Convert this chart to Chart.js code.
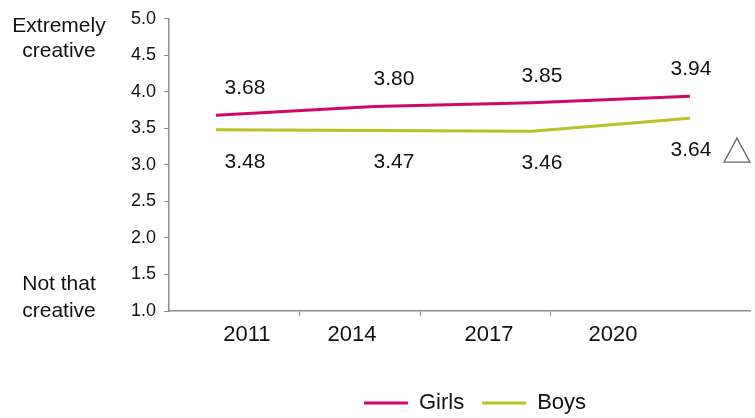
<!DOCTYPE html>
<html lang="en">
<head>
  <meta charset="UTF-8" />
  <title>Creativity rating</title>
  <script src="https://cdn.jsdelivr.net/npm/chart.js"></script>
  <style>
    *{margin:0;padding:0;box-sizing:border-box}
    body,html{width:755px;height:418px;background:#fff;overflow:hidden}
    .wrap{position:relative;width:755px;height:418px}
  </style>
</head>
<body>
  <div class="wrap"><canvas id="chart"></canvas></div>

  <script>
    // data
    const years = ['2011', '2014', '2017', '2020'];
    const girls = [3.68, 3.80, 3.85, 3.94];
    const boys  = [3.48, 3.47, 3.46, 3.64];
    const boysMarks = ['', '', '', '△'];   // significance marker next to the label
    const yTop = ['Extremely', 'creative'];
    const yBottom = ['Not that', 'creative'];

    const FONT = '"Liberation Sans", Arial, sans-serif';
    const PINK = '#D0086A';
    const LIME = '#B9C323';
    const AXIS = '#8c8c8c';

    // where the year labels sit along the x axis (in point units, 0..3)
    const labelPos = [0.196, 0.861, 1.728, 2.513];
    // value labels are a bit to the right of each vertex
    const labelDx = [29, 20, 10, 1];

    const valueLabels = {
      id: 'valueLabels',
      afterDatasetsDraw(chart) {
        const ctx = chart.ctx;
        ctx.save();
        ctx.font = '21px ' + FONT;
        ctx.fillStyle = '#111';
        ctx.textAlign = 'center';
        ctx.textBaseline = 'middle';
        chart.data.datasets.forEach((ds, di) => {
          const meta = chart.getDatasetMeta(di);
          const dy = di === 0 ? -27 : 32;
          meta.data.forEach((pt, i) => {
            const x = pt.x + labelDx[i];
            const y = pt.y + dy;
            ctx.fillText(ds.data[i].y.toFixed(2), x, y);
            if (di === 1 && boysMarks[i]) {
              // hollow triangle
              const cx = x + 46, cy = y;
              ctx.beginPath();
              ctx.moveTo(cx, cy - 12);
              ctx.lineTo(cx + 13, cy + 12);
              ctx.lineTo(cx - 13, cy + 12);
              ctx.closePath();
              ctx.strokeStyle = '#666';
              ctx.lineWidth = 1.3;
              ctx.stroke();
            }
          });
        });
        ctx.restore();
      }
    };

    const sideLabels = {
      id: 'sideLabels',
      afterLayout(chart) {
        // legend sits right of centre and a little lower in the original
        const lg = chart.legend;
        lg.left = 200;
        lg.top += 10;
        lg.bottom += 10;
      },
      afterDraw(chart) {
        const ctx = chart.ctx;
        const y = chart.scales.y;
        ctx.save();
        ctx.font = '21px ' + FONT;
        ctx.fillStyle = '#111';
        ctx.textAlign = 'center';
        ctx.textBaseline = 'middle';
        const top = y.getPixelForValue(5);
        const bot = y.getPixelForValue(1);
        ctx.fillText(yTop[0], 59, top + 7);
        ctx.fillText(yTop[1], 59, top + 32);
        ctx.fillText(yBottom[0], 59, bot - 27);
        ctx.fillText(yBottom[1], 59, bot);
        ctx.restore();
      }
    };

    new Chart(document.getElementById('chart'), {
      type: 'line',
      data: {
        datasets: [
          { label: 'Girls', data: girls.map((v, i) => ({ x: i, y: v })),
            borderColor: PINK, backgroundColor: PINK, borderWidth: 3, pointRadius: 0, tension: 0 },
          { label: 'Boys', data: boys.map((v, i) => ({ x: i, y: v })),
            borderColor: LIME, backgroundColor: LIME, borderWidth: 3, pointRadius: 0, tension: 0 }
        ]
      },
      options: {
        responsive: true,
        maintainAspectRatio: false,
        animation: false,
        layout: { padding: { top: 1, right: 5, bottom: 4, left: 0 } },
        plugins: {
          legend: {
            position: 'bottom',
            labels: {
              font: { family: FONT, size: 22 },
              color: '#111',
              usePointStyle: true,
              pointStyle: 'line',
              pointStyleWidth: 44,
              padding: 18
            }
          },
          tooltip: { enabled: false }
        },
        scales: {
          x: {
            type: 'linear',
            min: -0.297,
            max: 3.38,
            afterBuildTicks: s => { s.ticks = labelPos.map(v => ({ value: v })); },
            afterFit: s => { s.height = 53; },
            ticks: {
              callback: (v, i) => years[i],
              font: { family: FONT, size: 22 },
              color: '#111',
              padding: 6,
              maxRotation: 0,
              autoSkip: false
            },
            grid: {
              offset: true,
              drawOnChartArea: false,
              tickLength: 5,
              tickColor: c => (c.index >= 1 && c.index <= 3 ? AXIS : 'rgba(0,0,0,0)')
            },
            border: { color: AXIS, width: 1.5 }
          },
          y: {
            min: 1,
            max: 5,
            afterFit: s => { s.width = 169; },
            ticks: {
              stepSize: 0.5,
              callback: v => v.toFixed(1),
              font: { family: FONT, size: 18 },
              color: '#111',
              padding: 8
            },
            grid: { drawOnChartArea: false, tickLength: 5, tickColor: AXIS },
            border: { color: AXIS, width: 1.5 }
          }
        }
      },
      plugins: [valueLabels, sideLabels]
    });
  </script>
</body>
</html>
